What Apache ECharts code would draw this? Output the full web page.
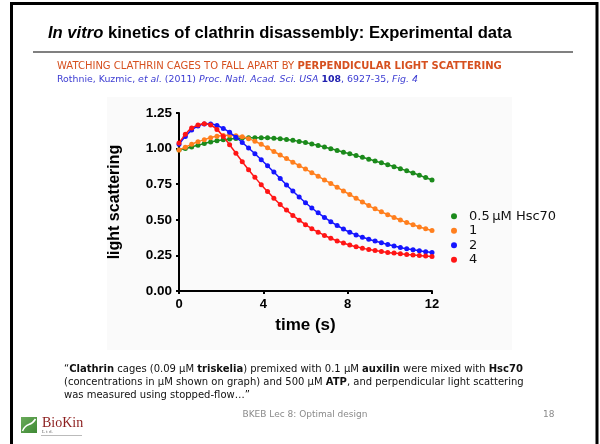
<!DOCTYPE html>
<html>
<head>
<meta charset="utf-8">
<script src="https://cdn.jsdelivr.net/npm/echarts@6/dist/echarts.min.js"></script>
<style>html,body{margin:0;padding:0;background:#fff;}#c{width:600px;height:444px;}</style>
</head>
<body>
<div id="c"></div>
<script>
// ---- data ----
var times = [0, 0.3, 0.6, 0.9, 1.2, 1.5, 1.8, 2.1, 2.4, 2.7, 3.0, 3.3, 3.6, 3.9, 4.2, 4.5, 4.8, 5.1, 5.4, 5.7, 6.0, 6.3, 6.6, 6.9, 7.2, 7.5, 7.8, 8.1, 8.4, 8.7, 9.0, 9.3, 9.6, 9.9, 10.2, 10.5, 10.8, 11.1, 11.4, 11.7, 12.0];
var seriesNames = ['0.5\u2009\u03bcM Hsc70', '1', '2', '4'];
var hsc05 = [0.99, 1.00, 1.012, 1.024, 1.036, 1.046, 1.055, 1.062, 1.067, 1.071, 1.074, 1.076, 1.077, 1.077, 1.076, 1.073, 1.069, 1.064, 1.058, 1.050, 1.042, 1.032, 1.022, 1.011, 0.999, 0.987, 0.975, 0.963, 0.951, 0.939, 0.926, 0.913, 0.900, 0.887, 0.873, 0.859, 0.844, 0.829, 0.813, 0.797, 0.780];
var hsc1 = [0.99, 1.01, 1.03, 1.048, 1.063, 1.076, 1.086, 1.092, 1.094, 1.091, 1.083, 1.070, 1.052, 1.030, 1.006, 0.980, 0.955, 0.930, 0.905, 0.880, 0.856, 0.831, 0.806, 0.780, 0.755, 0.729, 0.703, 0.677, 0.651, 0.625, 0.600, 0.577, 0.556, 0.536, 0.517, 0.498, 0.481, 0.465, 0.450, 0.437, 0.425];
var hsc2 = [1.03, 1.085, 1.13, 1.158, 1.172, 1.172, 1.162, 1.142, 1.114, 1.080, 1.043, 1.004, 0.964, 0.922, 0.879, 0.835, 0.790, 0.745, 0.702, 0.660, 0.620, 0.583, 0.549, 0.517, 0.487, 0.460, 0.435, 0.413, 0.394, 0.378, 0.364, 0.351, 0.339, 0.327, 0.316, 0.306, 0.297, 0.289, 0.282, 0.276, 0.270];
var hsc4 = [1.04, 1.10, 1.145, 1.165, 1.174, 1.166, 1.135, 1.085, 1.027, 0.967, 0.908, 0.852, 0.798, 0.747, 0.698, 0.652, 0.608, 0.568, 0.531, 0.497, 0.466, 0.438, 0.413, 0.390, 0.370, 0.352, 0.337, 0.323, 0.311, 0.301, 0.292, 0.284, 0.277, 0.271, 0.266, 0.261, 0.257, 0.253, 0.249, 0.245, 0.242];
var xTicks = [0, 4, 8, 12];
var yTicks = [0, 0.25, 0.5, 0.75, 1.0, 1.25];

var colors = ['#1b8a1b', '#ff7f1e', '#1515ff', '#ff1515'];
var allValues = [hsc05, hsc1, hsc2, hsc4];

function pairs(vals) { return times.map(function (t, i) { return [t, vals[i]]; }); }

var chart = echarts.init(document.getElementById('c'), null, {renderer: 'canvas'});
var sans = '"Liberation Sans", Arial, sans-serif';
var tah = '"DejaVu Sans", Verdana, sans-serif';

var series = seriesNames.map(function (n, k) {
  return {
    name: n, type: 'line', data: pairs(allValues[k]),
    symbol: 'circle', symbolSize: 5, smooth: 0.3,
    lineStyle: {color: colors[k], width: 1.5},
    itemStyle: {color: colors[k]},
    emphasis: {disabled: true}, z: 2 + k, animation: false
  };
});

chart.setOption({
  animation: false,
  backgroundColor: '#ffffff',
  grid: {left: 179, right: 168, top: 113, bottom: 153, containLabel: false},
  xAxis: {
    type: 'value', min: xTicks[0], max: xTicks[xTicks.length - 1], interval: 4,
    name: 'time (s)', nameLocation: 'middle', nameGap: 26,
    nameTextStyle: {fontFamily: sans, fontWeight: 'bold', fontSize: 17, color: '#000'},
    axisLine: {show: true, lineStyle: {color: '#000', width: 2}},
    axisTick: {show: true, length: 3, lineStyle: {color: '#000', width: 2}},
    axisLabel: {fontFamily: sans, fontWeight: 'bold', fontSize: 13, color: '#000', margin: 7},
    splitLine: {show: false}
  },
  yAxis: {
    type: 'value', min: yTicks[0], max: yTicks[yTicks.length - 1], interval: 0.25,
    name: 'light scattering', nameLocation: 'middle', nameGap: 56,
    nameTextStyle: {fontFamily: sans, fontWeight: 'bold', fontSize: 16, color: '#000'},
    axisLine: {show: true, lineStyle: {color: '#000', width: 2}},
    axisTick: {show: true, length: 3, lineStyle: {color: '#000', width: 2}},
    axisLabel: {fontFamily: sans, fontWeight: 'bold', fontSize: 13.5, color: '#000', margin: 7,
      formatter: function (v) { return v.toFixed(2); }},
    splitLine: {show: false}
  },
  legend: {
    orient: 'vertical', left: 446, top: 204, icon: 'circle',
    itemWidth: 20, itemHeight: 6, itemGap: 0,
    data: seriesNames,
    textStyle: {fontFamily: tah, fontSize: 13, color: '#111', lineHeight: 14.5, padding: [0, 0, 0, 0]}
  },
  series: series,
  graphic: {elements: [
    {type: 'rect', z: -10, shape: {x: 107, y: 97, width: 405, height: 253}, style: {fill: '#fafafa'}, silent: true},
    {type: 'rect', z: 100, shape: {x: 11.5, y: 3.5, width: 585.5, height: 460}, style: {fill: null, stroke: '#000', lineWidth: 3}, silent: true},
    {type: 'text', x: 48, y: 33, style: {
      text: '{i|In vitro} kinetics of clathrin disassembly: Experimental data',
      font: 'bold 16.6px ' + sans, fill: '#000', verticalAlign: 'middle',
      rich: {i: {fontStyle: 'italic', fontWeight: 'bold', fontSize: 16.6, fontFamily: sans, fill: '#000'}}
    }},
    {type: 'line', shape: {x1: 33, y1: 52, x2: 573, y2: 52}, style: {stroke: '#808080', lineWidth: 2}},
    {type: 'text', x: 57, y: 66, style: {
      text: 'WATCHING CLATHRIN CAGES TO FALL APART BY {b|PERPENDICULAR LIGHT SCATTERING}',
      font: '10px ' + tah, fill: '#d6501f', verticalAlign: 'middle',
      rich: {b: {fontWeight: 'bold', fontSize: 10, fontFamily: tah, fill: '#d6501f'}}
    }},
    {type: 'text', x: 57, y: 80, style: {
      text: 'Rothnie, Kuzmic, {i|et al.} (2011) {i|Proc. Natl. Acad. Sci. USA} {b|108}, 6927-35, {i|Fig. 4}',
      font: '9.4px ' + tah, fill: '#3c3cd2', verticalAlign: 'middle',
      rich: {i: {fontStyle: 'italic', fontSize: 9.4, fontFamily: tah, fill: '#3c3cd2'},
             b: {fontWeight: 'bold', fontSize: 9.4, fontFamily: tah, fill: '#2020b0'}}
    }},
    {type: 'text', x: 64, y: 369, style: {
      text: '\u201c{b|Clathrin} cages (0.09 \u03bcM {b|triskelia}) premixed with 0.1 \u03bcM {b|auxilin} were mixed with {b|Hsc70}',
      font: '10px ' + tah, fill: '#111', verticalAlign: 'middle',
      rich: {b: {fontWeight: 'bold', fontSize: 10, fontFamily: tah, fill: '#111'}}
    }},
    {type: 'text', x: 64, y: 382, style: {
      text: '(concentrations in \u03bcM shown on graph) and 500 \u03bcM {b|ATP}, and perpendicular light scattering',
      font: '10px ' + tah, fill: '#111', verticalAlign: 'middle',
      rich: {b: {fontWeight: 'bold', fontSize: 10, fontFamily: tah, fill: '#111'}}
    }},
    {type: 'text', x: 64, y: 395, style: {
      text: 'was measured using stopped-flow\u2026\u201d',
      font: '10px ' + tah, fill: '#111', verticalAlign: 'middle'
    }},
    {type: 'text', x: 305, y: 415, style: {
      text: 'BKEB Lec 8: Optimal design', font: '9px ' + tah, fill: '#8a8a8a',
      align: 'center', verticalAlign: 'middle'
    }},
    {type: 'text', x: 543, y: 415, style: {
      text: '18', font: '9px ' + tah, fill: '#8a8a8a', align: 'left', verticalAlign: 'middle'
    }},
    {type: 'rect', shape: {x: 21, y: 417, width: 16, height: 16}, style: {
      fill: new echarts.graphic.LinearGradient(0, 0, 1, 1, [{offset: 0, color: '#6aaa5a'}, {offset: 1, color: '#3f8a35'}])
    }},
    {type: 'bezierCurve', shape: {x1: 22.5, y1: 431, cpx1: 27, cpy1: 421, cpx2: 30, cpy2: 428, x2: 35.5, y2: 419},
      style: {stroke: '#fff', lineWidth: 1.5, fill: null}},
    {type: 'text', x: 42, y: 423, style: {
      text: 'BioKin', font: '14px "Liberation Serif", "DejaVu Serif", serif', fill: '#8b1c1c', verticalAlign: 'middle'
    }},
    {type: 'text', x: 42, y: 432, style: {
      text: 'L t d.', font: '5px "Liberation Serif", serif', fill: '#666', verticalAlign: 'middle'
    }},
    {type: 'line', shape: {x1: 41, y1: 435.5, x2: 82, y2: 435.5}, style: {stroke: '#bbb', lineWidth: 1}}
  ]}
});
</script>
</body>
</html>
